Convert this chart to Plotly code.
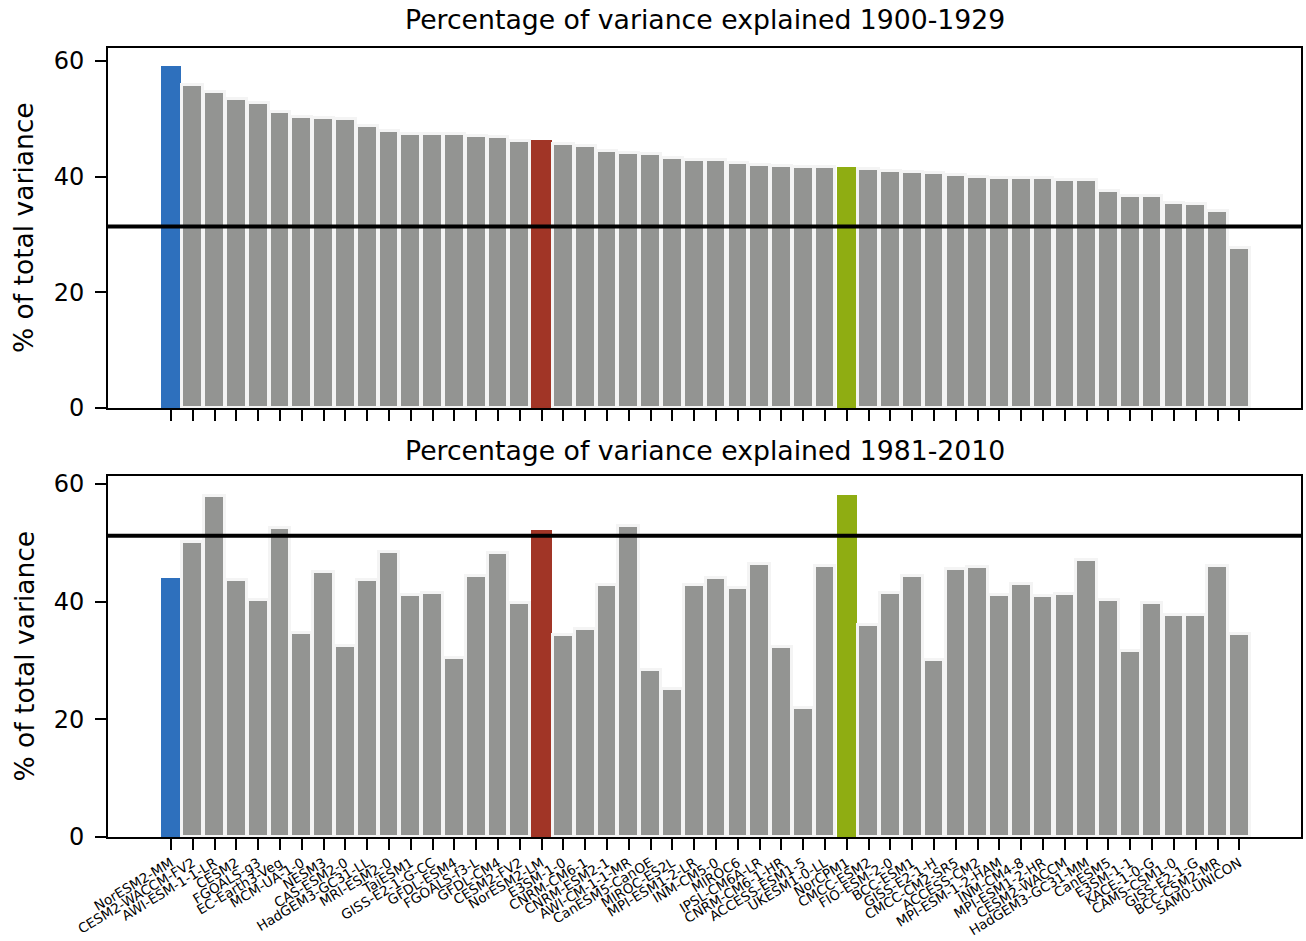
import plotly.graph_objects as go

models = ["NorESM2-MM", "CESM2-WACCM-FV2", "AWI-ESM-1-1-LR", "CESM2", "FGOALS-g3",
          "EC-Earth3-Veg", "MCM-UA-1-0", "NESM3", "CAS-ESM2-0", "HadGEM3-GC31-LL",
          "MRI-ESM2-0", "TaiESM1", "GISS-E2-1-G-CC", "GFDL-ESM4", "FGOALS-f3-L",
          "GFDL-CM4", "CESM2-FV2", "NorESM2-LM", "E3SM-1-0", "CNRM-CM6-1",
          "CNRM-ESM2-1", "AWI-CM-1-1-MR", "CanESM5-CanOE", "MIROC-ES2L", "MPI-ESM1-2-LR",
          "INM-CM5-0", "MIROC6", "IPSL-CM6A-LR", "CNRM-CM6-1-HR", "ACCESS-ESM1-5",
          "UKESM1-0-LL", "NorCPM1", "CMCC-ESM2", "FIO-ESM-2-0", "BCC-ESM1",
          "GISS-E2-1-H", "CMCC-CM2-SR5", "ACCESS-CM2", "MPI-ESM-1-2-HAM", "INM-CM4-8",
          "MPI-ESM1-2-HR", "CESM2-WACCM", "HadGEM3-GC31-MM", "CanESM5", "E3SM-1-1",
          "KACE-1-0-G", "CAMS-CSM1-0", "GISS-E2-1-G", "BCC-CSM2-MR", "SAM0-UNICON"]

var_1900_1929 = [59.1, 55.9, 54.7, 53.4, 52.7, 51.2, 50.3, 50.2, 50.0, 48.7,
                 47.9, 47.4, 47.4, 47.4, 47.0, 46.9, 46.2, 46.3, 45.7, 45.3,
                 44.5, 44.1, 43.9, 43.2, 42.8, 42.8, 42.4, 42.1, 41.8, 41.7,
                 41.6, 41.7, 41.4, 41.0, 40.8, 40.7, 40.3, 39.9, 39.8, 39.7,
                 39.7, 39.4, 39.4, 37.6, 36.7, 36.7, 35.5, 35.3, 34.1, 27.7]

var_1981_2010 = [44.1, 50.2, 58.0, 43.7, 40.2, 52.6, 34.6, 45.1, 32.5, 43.7,
                 48.4, 41.2, 41.5, 30.4, 44.4, 48.3, 39.8, 52.2, 34.3, 35.3,
                 42.8, 52.9, 28.4, 25.2, 42.8, 44.0, 42.3, 46.4, 32.3, 21.9,
                 46.1, 58.1, 36.1, 41.5, 44.4, 30.1, 45.6, 45.9, 41.1, 43.0,
                 41.0, 41.3, 47.1, 40.2, 31.6, 39.7, 37.7, 37.8, 46.1, 34.5]

ref_1900_1929 = 31.4
ref_1981_2010 = 51.2

titles = ["Percentage of variance explained 1900-1929",
          "Percentage of variance explained 1981-2010"]
yticks = [0, 20, 40, 60]

highlight = {"NorESM2-MM": "#2e70bd", "NorESM2-LM": "#a13526", "NorCPM1": "#8fad12"}
grey = "#939492"
colors = [highlight.get(m, grey) for m in models]
line_w = [0 if m in highlight else 3 for m in models]
x_idx = list(range(len(models)))

W, H = 1306, 941
ml, mr, mt, mb = 108, 5, 48, 104
ph = H - mt - mb
pw = W - ml - mr

def frac_y(py):
    return (H - mb - py) / ph

dom_top = [frac_y(408), 1.0]
dom_bot = [0.0, frac_y(476)]

fig = go.Figure()
fig.add_trace(go.Bar(x=x_idx, y=var_1900_1929, marker=dict(color=colors,
                     line=dict(color="#f4f4f4", width=line_w)),
                     width=0.95, xaxis="x", yaxis="y", showlegend=False))
fig.add_trace(go.Bar(x=x_idx, y=var_1981_2010, marker=dict(color=colors,
                     line=dict(color="#f4f4f4", width=line_w)),
                     width=0.95, xaxis="x2", yaxis="y2", showlegend=False))

xr = [-2.89, 51.83]
font = "DejaVu Sans"
common_x = dict(range=xr, showline=True, linecolor="black", linewidth=2, mirror=True,
                ticks="outside", ticklen=11, tickwidth=2, tickcolor="black",
                tickvals=x_idx, showgrid=False, zeroline=False, automargin=False)
common_y = dict(showline=True, linecolor="black", linewidth=2, mirror=True,
                ticks="outside", ticklen=11, tickwidth=2, tickcolor="black",
                tickvals=yticks, showgrid=False, zeroline=False, automargin=False,
                ticklabelstandoff=6,
                tickfont=dict(family=font, size=24, color="black"))

fig.update_layout(
    width=W, height=H, margin=dict(l=ml, r=mr, t=mt, b=mb, autoexpand=False),
    plot_bgcolor="white", paper_bgcolor="white", bargap=0,
    font=dict(family=font, color="black"),
    xaxis=dict(common_x, domain=[0, 1], anchor="y", showticklabels=False),
    yaxis=dict(common_y, domain=dom_top, anchor="x", range=[0, 60.0 * (408 - 48) / 347]),
    xaxis2=dict(common_x, domain=[0, 1], anchor="y2", ticktext=models, tickangle=-31,
                tickfont=dict(family=font, size=13.5, color="black")),
    yaxis2=dict(common_y, domain=dom_bot, anchor="x2", range=[0, 60.0 * (837 - 476) / 353]),
)

fig.add_shape(type="line", xref="paper", yref="y", x0=0, x1=1,
              y0=ref_1900_1929, y1=ref_1900_1929, line=dict(color="black", width=4))
fig.add_shape(type="line", xref="paper", yref="y2", x0=0, x1=1,
              y0=ref_1981_2010, y1=ref_1981_2010, line=dict(color="black", width=4))

fig.add_annotation(text=titles[0], xref="paper", yref="paper", x=(705 - ml) / pw,
                   y=frac_y(20), showarrow=False, xanchor="center", yanchor="middle",
                   font=dict(family=font, size=26.7, color="black"))
fig.add_annotation(text=titles[1], xref="paper", yref="paper", x=(705 - ml) / pw,
                   y=frac_y(451), showarrow=False, xanchor="center", yanchor="middle",
                   font=dict(family=font, size=26.7, color="black"))
for yc in [(48 + 408) / 2, (476 + 837) / 2]:
    fig.add_annotation(text="% of total variance", xref="paper", yref="paper",
                       x=(24 - ml) / pw, y=frac_y(yc), showarrow=False, textangle=-90,
                       xanchor="center", yanchor="middle",
                       font=dict(family=font, size=26.5, color="black"))

fig.write_html("out.html", config={"displayModeBar": False},
               post_script="document.body.style.margin='0';document.body.style.overflow='hidden';")
